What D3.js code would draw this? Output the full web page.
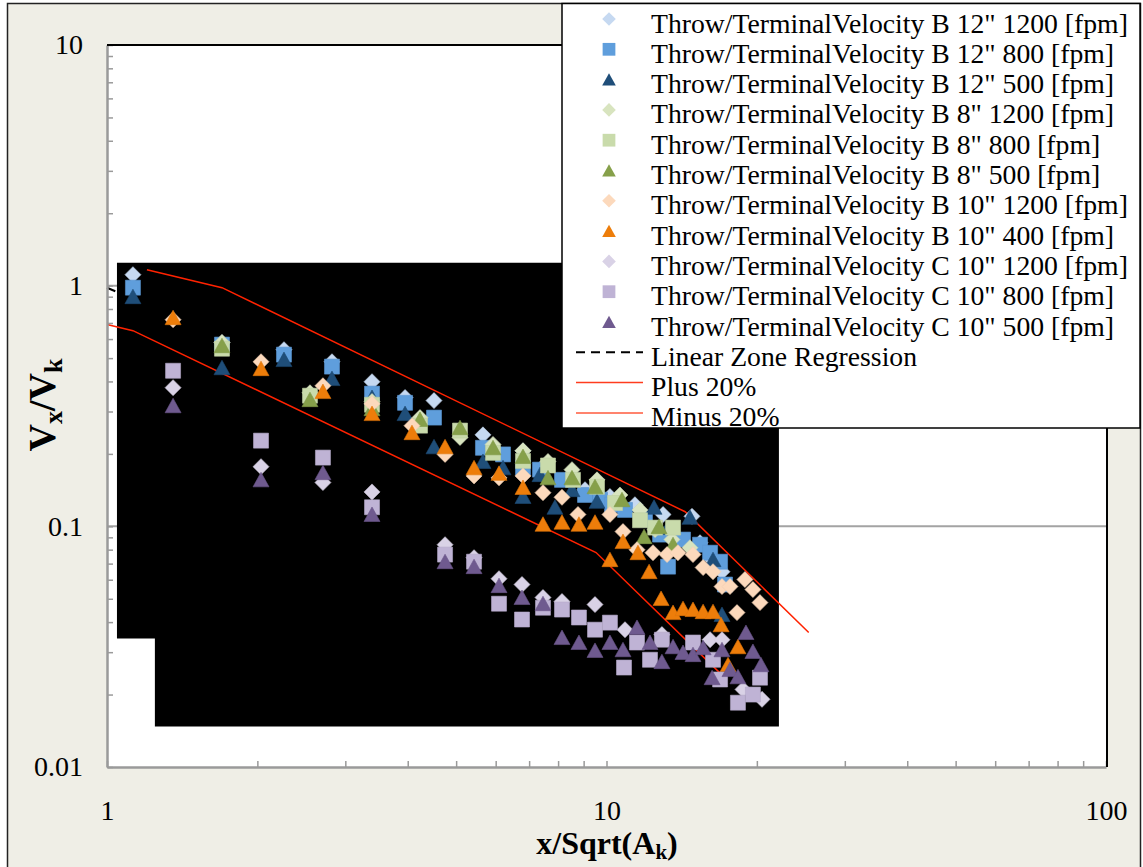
<!DOCTYPE html>
<html>
<head>
<meta charset="utf-8">
<script src="https://cdn.jsdelivr.net/npm/d3@7"></script>
<style>
  body { margin: 0; background: #fff; }
  svg { display: block; }
  svg text { font-family: "Liberation Serif", "Times New Roman", Times, serif !important; }
</style>
</head>
<body>
<div id="chart"></div>
<script>
// series: [x/Sqrt(Ak), Vx/Vk]
const b12_1200 = [[1.127,1.111],[1.699,0.580],[2.261,0.542],[2.821,0.483],[3.393,0.399],[3.951,0.343],[4.515,0.333],[5.658,0.240],[6.805,0.206],[7.462,0.177],[8.451,0.159],[9.057,0.142],[10.16,0.133],[11.40,0.123],[12.98,0.112],[14.83,0.110],[15.39,0.0855],[16.27,0.0727],[17.03,0.0648]];
const b12_800 = [[1.127,0.981],[1.699,0.569],[2.261,0.517],[2.821,0.461],[3.393,0.356],[3.951,0.326],[4.515,0.283],[5.658,0.212],[6.206,0.199],[6.805,0.175],[7.360,0.172],[8.145,0.156],[9.057,0.135],[9.705,0.129],[10.26,0.123],[10.89,0.117],[11.94,0.107],[12.80,0.0924],[13.28,0.0680],[14.23,0.0881],[15.39,0.0839],[16.12,0.0777],[16.88,0.0713],[17.27,0.0573]];
const b12_500 = [[1.127,0.900],[1.699,0.456],[2.261,0.493],[2.821,0.411],[3.393,0.343],[3.951,0.294],[4.515,0.214],[5.658,0.186],[6.206,0.175],[6.805,0.133],[7.360,0.164],[7.885,0.120],[8.529,0.142],[9.572,0.127],[10.64,0.132],[12.45,0.120],[13.28,0.0988],[14.69,0.109],[16.34,0.0727],[17.03,0.0430]];
const b8_1200 = [[1.699,0.580],[2.549,0.359],[3.393,0.330],[4.233,0.283],[5.090,0.234],[5.927,0.219],[6.805,0.206],[7.636,0.186],[8.529,0.172],[9.572,0.156],[10.64,0.135],[11.67,0.117],[12.51,0.0969],[13.52,0.0881],[14.69,0.0815]];
const b8_800 = [[1.699,0.547],[2.549,0.349],[3.393,0.320],[4.233,0.262],[5.090,0.250],[5.927,0.202],[6.805,0.187],[7.636,0.179],[8.568,0.156],[9.572,0.146],[10.40,0.125],[11.67,0.106],[12.51,0.0988],[13.59,0.0988]];
const b8_500 = [[1.699,0.563],[2.549,0.336],[3.393,0.308],[4.233,0.278],[5.090,0.257],[5.927,0.212],[6.805,0.195],[7.636,0.159],[8.529,0.159],[9.484,0.146],[10.74,0.129],[11.89,0.0906],[12.74,0.0997],[13.59,0.0839]];
const b10_1200 = [[1.356,0.722],[2.034,0.483],[2.706,0.384],[3.393,0.323],[4.079,0.262],[4.751,0.199],[5.430,0.162],[6.093,0.159],[6.805,0.162],[7.462,0.138],[8.145,0.132],[8.768,0.112],[10.16,0.112],[10.79,0.0951],[11.51,0.0800],[12.39,0.0777],[13.22,0.0763],[13.90,0.0777],[14.90,0.0763],[15.61,0.0674],[16.34,0.0648],[17.03,0.0562],[17.67,0.0562],[18.93,0.0601],[19.64,0.0546],[20.29,0.0482],[18.25,0.0438]];
const b10_400 = [[1.356,0.736],[2.034,0.452],[2.706,0.363],[3.393,0.294],[4.079,0.245],[4.751,0.214],[5.430,0.175],[6.093,0.166],[6.805,0.145],[7.462,0.102],[8.145,0.104],[8.808,0.102],[9.484,0.104],[10.16,0.0727],[10.79,0.0864],[11.56,0.0777],[12.17,0.0648],[12.86,0.0501],[13.59,0.0438],[14.23,0.0455],[14.90,0.0451],[15.61,0.0442],[16.34,0.0442],[16.96,0.0390],[18.33,0.0316],[17.51,0.0266]];
const c10_1200 = [[1.356,0.377],[2.034,0.177],[2.706,0.152],[3.393,0.139],[4.751,0.0839],[5.430,0.0741],[6.093,0.0606],[6.774,0.0573],[7.462,0.0506],[8.145,0.0487],[9.484,0.0473],[10.89,0.0372],[12.91,0.0355],[16.12,0.0338],[17.03,0.0338],[18.76,0.0210],[20.48,0.0191]];
const c10_800 = [[1.356,0.443],[2.034,0.227],[2.706,0.193],[3.393,0.120],[4.751,0.0763],[5.430,0.0713],[6.093,0.0477],[6.774,0.0410],[7.462,0.0459],[8.145,0.0451],[8.808,0.0418],[9.484,0.0372],[10.16,0.0398],[10.84,0.0259],[11.51,0.0329],[12.22,0.0279],[12.91,0.0338],[14.90,0.0329],[16.34,0.0279],[16.88,0.0231],[18.33,0.0185],[19.64,0.0200],[20.29,0.0235]];
const c10_500 = [[1.356,0.317],[2.034,0.156],[2.706,0.167],[3.393,0.112],[4.751,0.0713],[5.430,0.0680],[6.093,0.0567],[6.774,0.0506],[7.462,0.0477],[8.145,0.0345],[8.808,0.0329],[9.484,0.0305],[10.16,0.0329],[10.79,0.0307],[11.51,0.0380],[12.22,0.0329],[12.91,0.0274],[13.59,0.0316],[14.23,0.0299],[14.90,0.0293],[15.61,0.0313],[16.27,0.0235],[17.03,0.0307],[17.67,0.0254],[18.33,0.0237],[19.02,0.0362],[19.64,0.0302],[20.38,0.0266]];

const seriesNames = [
  'Throw/TerminalVelocity B 12" 1200 [fpm]',
  'Throw/TerminalVelocity B 12" 800 [fpm]',
  'Throw/TerminalVelocity B 12" 500 [fpm]',
  'Throw/TerminalVelocity B 8" 1200 [fpm]',
  'Throw/TerminalVelocity B 8" 800 [fpm]',
  'Throw/TerminalVelocity B 8" 500 [fpm]',
  'Throw/TerminalVelocity B 10" 1200 [fpm]',
  'Throw/TerminalVelocity B 10" 400 [fpm]',
  'Throw/TerminalVelocity C 10" 1200 [fpm]',
  'Throw/TerminalVelocity C 10" 800 [fpm]',
  'Throw/TerminalVelocity C 10" 500 [fpm]'
];
const seriesValues = [b12_1200, b12_800, b12_500, b8_1200, b8_800, b8_500, b10_1200, b10_400, c10_1200, c10_800, c10_500];
const seriesShapes = ['diamond','square','triangle','diamond','square','triangle','diamond','triangle','diamond','square','triangle'];
const seriesColors = ['#c6d9f1','#5f9edc','#1f4e79','#d8e4bf','#c9dbab','#86a04a','#fcd9bc','#ed7d0a','#d9d2e6','#bfb3d5','#6f5a8f'];

// reference lines
const regressionLine = [[1.0,0.98],[1.7,0.62],[12,0.095],[21,0.032]];
const plus20 = [[1.202,1.165],[1.699,0.981],[14.37,0.115],[25.4,0.0362]];
const minus20 = [[1.0,0.689],[1.127,0.650],[9.53,0.0778],[17.0,0.0242]];

// the dark patch behind the points in the original picture
const blackPatch = [[1.047,1.246],[22.14,1.246],[22.14,0.01472],[1.247,0.01472],[1.247,0.0342],[1.047,0.0342]];

const xLabels = ['1','10','100'];
const yLabels = ['0.01','0.1','1','10'];

const width = 1143, height = 867;
const plot = { left: 107, right: 1107, top: 45, bottom: 767 };
const serif = '"Liberation Serif", "Times New Roman", Times, serif';

const svg = d3.select('#chart').append('svg')
  .attr('width', width)
  .attr('height', height);

// chart background + frame
svg.append('rect')
  .attr('x', 7.5).attr('y', 3.5)
  .attr('width', 1133).attr('height', 875)
  .attr('fill', '#efeee6')
  .attr('stroke', '#222').attr('stroke-width', 1.5);

svg.append('rect')
  .attr('x', plot.left).attr('y', plot.top)
  .attr('width', plot.right - plot.left).attr('height', plot.bottom - plot.top)
  .attr('fill', '#fff');

const x = d3.scaleLog().domain([1, 100]).range([plot.left, plot.right - 1]);
const y = d3.scaleLog().domain([0.01, 10]).range([plot.bottom, plot.top]);

const isMajor = d => Math.abs(Math.log10(d) - Math.round(Math.log10(d))) < 1e-6;

// horizontal gridlines
svg.append('g')
  .selectAll('line')
  .data([0.1, 1])
  .join('line')
  .attr('x1', plot.left).attr('x2', plot.right)
  .attr('y1', d => y(d)).attr('y2', d => y(d))
  .attr('stroke', '#a3a3a3')
  .attr('stroke-width', 2);

// black patch
const line = d3.line().x(d => x(d[0])).y(d => y(d[1]));
svg.append('path')
  .attr('d', line(blackPatch) + 'Z')
  .attr('fill', '#000');

// regression + bounds
svg.append('path')
  .attr('d', line(regressionLine))
  .attr('fill', 'none')
  .attr('stroke', '#000')
  .attr('stroke-width', 2)
  .attr('stroke-dasharray', '9,6');

[plus20, minus20].forEach(pts => {
  svg.append('path')
    .attr('d', line(pts))
    .attr('fill', 'none')
    .attr('stroke', '#ff2200')
    .attr('stroke-width', 1.5);
});

function shapePath(shape) {
  if (shape === 'diamond') return 'M0,-8L8,0L0,8L-8,0Z';
  if (shape === 'square') return 'M-7.5,-7.5H7.5V7.5H-7.5Z';
  return 'M0,-7.5L8,7L-8,7Z';
}

// markers
seriesValues.forEach((vals, i) => {
  svg.append('g')
    .selectAll('path')
    .data(vals)
    .join('path')
    .attr('d', shapePath(seriesShapes[i]))
    .attr('transform', d => `translate(${x(d[0])},${y(d[1])})`)
    .attr('fill', seriesColors[i])
    .attr('stroke', d3.color(seriesColors[i]).darker(0.15))
    .attr('stroke-width', 0.6);
});

// axes
const yAxis = svg.append('g')
  .attr('transform', `translate(${plot.left},0)`)
  .call(d3.axisLeft(y)
    .tickValues(y.ticks())
    .tickSize(-6)
    .tickSizeOuter(0)
    .tickPadding(24)
    .tickFormat(d => isMajor(d) ? yLabels[Math.round(Math.log10(d)) + 2] : ''));

const xAxis = svg.append('g')
  .attr('transform', `translate(0,${plot.bottom})`)
  .call(d3.axisBottom(x)
    .tickValues(x.ticks())
    .tickSize(-6)
    .tickSizeOuter(0)
    .tickPadding(33)
    .tickFormat(d => isMajor(d) ? xLabels[Math.round(Math.log10(d))] : ''));

[yAxis, xAxis].forEach(ax => {
  ax.attr('font-family', serif);
  ax.select('.domain').attr('stroke', '#9a9a9a').attr('stroke-width', 2.5);
  ax.selectAll('.tick line').attr('stroke', '#9a9a9a').attr('stroke-width', 1.5);
  ax.selectAll('.tick text')
    .attr('fill', '#000')
    .style('font-family', serif)
    .style('font-size', '28px');
});

// plot border top/right
svg.append('path')
  .attr('d', `M${plot.left},${plot.top}H${plot.right}V${plot.bottom}`)
  .attr('fill', 'none')
  .attr('stroke', '#000')
  .attr('stroke-width', 2);

// axis titles
const xTitle = svg.append('text')
  .attr('x', 607).attr('y', 854)
  .attr('text-anchor', 'middle')
  .attr('font-size', '32px')
  .attr('font-weight', 'bold');
xTitle.append('tspan').text('x/Sqrt(A');
xTitle.append('tspan').attr('font-size', '21px').attr('dy', 5).text('k');
xTitle.append('tspan').attr('dy', -5).text(')');

const yTitle = svg.append('text')
  .attr('transform', 'translate(55,405) rotate(-90)')
  .attr('text-anchor', 'middle')
  .attr('font-size', '38px')
  .attr('font-weight', 'bold');
yTitle.append('tspan').text('V');
yTitle.append('tspan').attr('font-size', '26px').attr('dy', 7).text('x');
yTitle.append('tspan').attr('dy', -7).text('/V');
yTitle.append('tspan').attr('font-size', '26px').attr('dy', 7).text('k');

// legend
const legend = svg.append('g');
legend.append('rect')
  .attr('x', 562).attr('y', 3.5)
  .attr('width', 578).attr('height', 424.5)
  .attr('fill', '#fff')
  .attr('stroke', '#000')
  .attr('stroke-width', 1.5);

const rowY = i => 19 + i * 30.3;

seriesNames.forEach((name, i) => {
  legend.append('path')
    .attr('d', shapePath(seriesShapes[i]))
    .attr('transform', `translate(609,${rowY(i)}) scale(0.85)`)
    .attr('fill', seriesColors[i]);
  legend.append('text')
    .attr('x', 651).attr('y', rowY(i) + 13.5)
    .attr('font-size', '27.7px')
    .attr('fill', '#000')
    .text(name);
});

const lineItems = [
  { name: 'Linear Zone Regression', color: '#000', dash: '9,6', width: 2 },
  { name: 'Plus 20%', color: '#ff3c1e', dash: null, width: 1.5 },
  { name: 'Minus 20%', color: '#ff5a3c', dash: null, width: 1.5 }
];
lineItems.forEach((item, j) => {
  const yy = rowY(seriesNames.length + j);
  legend.append('line')
    .attr('x1', 576).attr('x2', 643)
    .attr('y1', yy).attr('y2', yy)
    .attr('stroke', item.color)
    .attr('stroke-width', item.width)
    .attr('stroke-dasharray', item.dash);
  legend.append('text')
    .attr('x', 651).attr('y', yy + 13.5)
    .attr('font-size', '27.7px')
    .attr('fill', '#000')
    .text(item.name);
});
</script>
</body>
</html>
